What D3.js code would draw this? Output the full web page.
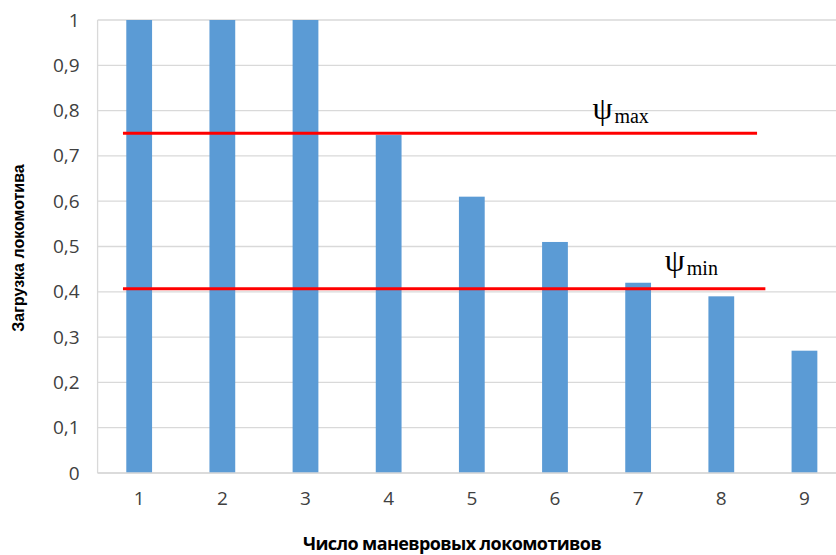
<!DOCTYPE html>
<html>
<head>
<meta charset="utf-8">
<script src="https://cdn.jsdelivr.net/npm/d3@7"></script>
<style>
  html, body { margin: 0; padding: 0; background: #fff; overflow: hidden; }
  svg { display: block; }
</style>
</head>
<body>
<svg id="chart" width="836" height="555"></svg>
<script>
// Number of shunting locomotives and their load factor
const categories = ["1", "2", "3", "4", "5", "6", "7", "8", "9"];
const loadValues = [1, 1, 1, 0.746, 0.61, 0.51, 0.42, 0.39, 0.27];
const yTickValues = [0, 0.1, 0.2, 0.3, 0.4, 0.5, 0.6, 0.7, 0.8, 0.9, 1];

// Load limits ψmax / ψmin
const psiNames = ["max", "min"];
const psiValues = [0.75, 0.407];

const svg = d3.select("#chart");

const plot = { left: 97.6, top: 20, bottom: 473, step: 83.16 };
plot.right = plot.left + plot.step * categories.length;

const x = d3.scaleBand()
  .domain(categories)
  .range([plot.left, plot.right])
  .paddingInner(0.69)
  .paddingOuter(0.345);

// continuous position in category units (1 = centre of first category)
const xPos = d3.scaleLinear()
  .domain([0.5, categories.length + 0.5])
  .range([plot.left, plot.right]);

const y = d3.scaleLinear().domain([0, 1]).range([plot.bottom, plot.top]);

const fmt = v => d3.format(".1~f")(v).replace(".", ",");

// horizontal gridlines
svg.append("g")
  .selectAll("line")
  .data(yTickValues)
  .join("line")
  .attr("x1", plot.left)
  .attr("x2", plot.right)
  .attr("y1", d => y(d))
  .attr("y2", d => y(d))
  .attr("stroke", "#d9d9d9")
  .attr("stroke-width", 1.3);

// left plot border
svg.append("line")
  .attr("x1", plot.left).attr("x2", plot.left)
  .attr("y1", plot.top).attr("y2", plot.bottom)
  .attr("stroke", "#d9d9d9").attr("stroke-width", 1.3);

// y axis labels
const yAxis = d3.axisLeft(y).tickValues(yTickValues).tickFormat(fmt).tickSize(0).tickPadding(18);
const gy = svg.append("g").attr("transform", `translate(${plot.left},0)`).call(yAxis);
gy.select(".domain").remove();
gy.selectAll("text")
  .attr("font-family", "'Open Sans', sans-serif")
  .attr("font-size", 19)
  .attr("fill", "#404040");

// x axis labels
const xAxis = d3.axisBottom(x).tickSize(0).tickPadding(19);
const gx = svg.append("g").attr("transform", `translate(0,${plot.bottom})`).call(xAxis);
gx.select(".domain").remove();
gx.selectAll("text")
  .attr("font-family", "'Open Sans', sans-serif")
  .attr("font-size", 19)
  .attr("fill", "#404040");

// bars
svg.append("g")
  .selectAll("rect")
  .data(loadValues)
  .join("rect")
  .attr("x", (d, i) => x(categories[i]))
  .attr("width", x.bandwidth())
  .attr("y", d => y(d))
  .attr("height", d => y(0) - y(d))
  .attr("fill", "#5b9bd5");

// bottom axis line
svg.append("line")
  .attr("x1", plot.left).attr("x2", plot.right)
  .attr("y1", plot.bottom).attr("y2", plot.bottom)
  .attr("stroke", "#d9d9d9").attr("stroke-width", 1.3);

// limit lines
const lineStart = [0.805, 0.805];
const lineEnd = [8.43, 8.53];
const labelAt = [6.45, 7.32];
const labelLift = [10, 14];

const limits = svg.append("g");
limits.selectAll("line")
  .data(psiValues)
  .join("line")
  .attr("x1", (d, i) => xPos(lineStart[i]))
  .attr("x2", (d, i) => xPos(lineEnd[i]))
  .attr("y1", d => y(d))
  .attr("y2", d => y(d))
  .attr("stroke", "#ff0000")
  .attr("stroke-width", 3);

const labels = limits.selectAll("text")
  .data(psiValues)
  .join("text")
  .attr("x", (d, i) => xPos(labelAt[i]))
  .attr("y", (d, i) => y(d) - labelLift[i])
  .attr("font-family", "'Liberation Serif', 'Times New Roman', serif")
  .attr("fill", "#000");
labels.append("tspan")
  .attr("font-size", 32)
  .attr("dy", -4)
  .text("ψ");
labels.append("tspan")
  .attr("font-size", 20)
  .attr("dx", 2)
  .attr("dy", 4)
  .text((d, i) => psiNames[i]);

// axis titles
svg.append("text")
  .attr("transform", `translate(24,248) rotate(-90)`)
  .attr("text-anchor", "middle")
  .attr("font-family", "'Liberation Sans', Arial, sans-serif")
  .attr("font-weight", "bold")
  .attr("font-size", 16)
  .attr("fill", "#000")
  .text("Загрузка локомотива");

svg.append("text")
  .attr("x", 452)
  .attr("y", 550)
  .attr("text-anchor", "middle")
  .attr("font-family", "'Open Sans', sans-serif")
  .attr("font-weight", "bold")
  .attr("font-size", 18)
  .attr("letter-spacing", -0.6)
  .attr("fill", "#000")
  .text("Число маневровых локомотивов");
</script>
</body>
</html>
